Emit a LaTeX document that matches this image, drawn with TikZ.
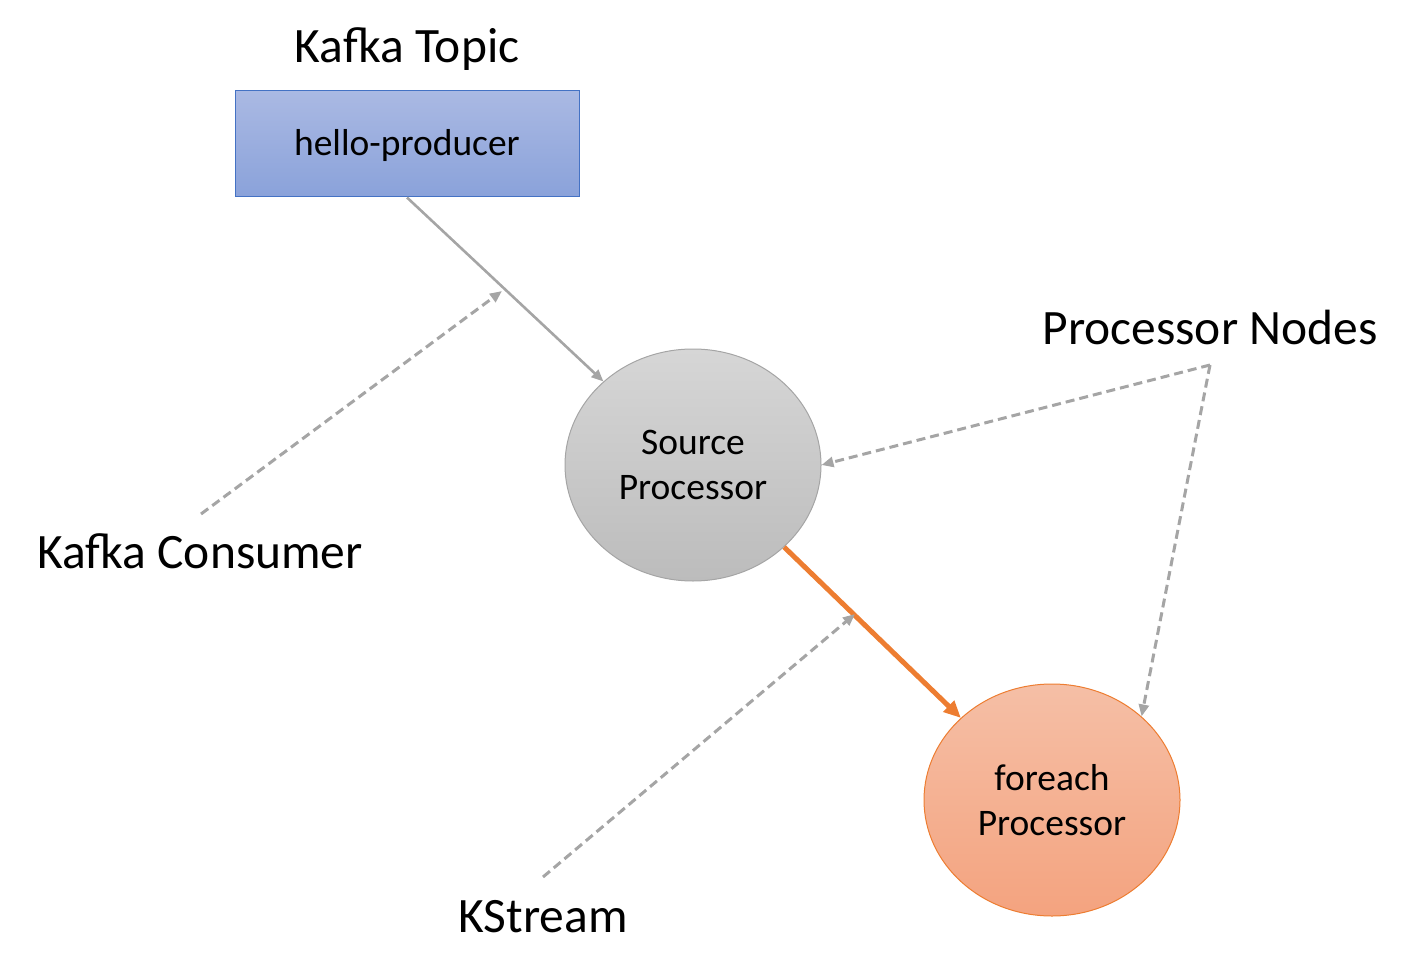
\documentclass[tikz,border=0pt]{standalone}
\usepackage{fontspec}
\setmainfont{Carlito}
\usetikzlibrary{arrows.meta,shapes.geometric,shadings}
\definecolor{boxtop}{HTML}{AAB9E3}
\definecolor{boxbot}{HTML}{8AA2DA}
\definecolor{boxline}{HTML}{4472C4}
\definecolor{srctop}{HTML}{D6D6D6}
\definecolor{srcbot}{HTML}{BCBCBC}
\definecolor{srcline}{HTML}{A5A5A5}
\definecolor{fetop}{HTML}{F5BFA6}
\definecolor{febot}{HTML}{F4A37F}
\definecolor{orangeline}{HTML}{ED7D31}
\definecolor{grayline}{HTML}{A5A5A5}
\tikzset{
  title/.style={font=\fontsize{49.5}{56}\selectfont, anchor=base, inner sep=0pt},
  nodetext/.style={font=\fontsize{37.5}{45}\selectfont, align=center},
  procnode/.style={ellipse, minimum width=256pt, minimum height=232pt, inner sep=0pt, line width=1pt, nodetext},
  flow/.style={draw=grayline, line width=2.6pt, -{Triangle[length=12pt,width=10pt]}},
  pointer/.style={draw=grayline, line width=3pt, dash pattern=on 9pt off 5pt, -{Triangle[length=12pt,width=10pt]}},
}
\begin{document}
\begin{tikzpicture}[x=1pt,y=-1pt]
\useasboundingbox (0,0) rectangle (1410,976);
% labels
\node[title] (kt) at (407,63) {Kafka Topic};
\node[title] (pnl) at (1210,344) {Processor Nodes};
\node[title] (kcl) at (200,568) {Kafka Consumer};
\node[title] (ksl) at (543,932) {KStream};
% topic box
\node[draw=boxline, line width=1pt, top color=boxtop, bottom color=boxbot, minimum width=344pt, minimum height=106pt, inner sep=0pt] (topic) at (407,144) {};
\node[nodetext, anchor=base, inner sep=0pt] (topictext) at (407,156) {hello-producer};
% processors
\node[procnode, draw=srcline, top color=srctop, bottom color=srcbot] (src) at (693,465) {Source\\Processor};
\node[procnode, draw=orangeline, top color=fetop, bottom color=febot] (fe) at (1052,800) {foreach\\Processor};
% connector endpoints
\coordinate (kcstart) at (201,514);
\coordinate (kcend) at (502,291);
\coordinate (ksstart) at (543,877);
\coordinate (ksend) at (855,614);
\coordinate (pn) at (1210,365);
% main flow
\draw[flow] (topic.south) -- (src.137);
\draw[draw=orangeline, line width=5pt, -{Triangle[length=17pt,width=15pt]}] (src.-42) -- (fe.138);
% pointers
\draw[pointer] (kcstart) -- (kcend);
\draw[pointer] (ksstart) -- (ksend);
\draw[pointer] (pn) -- (src.east);
\draw[pointer] (pn) -- (fe.43);
\end{tikzpicture}
\end{document}
